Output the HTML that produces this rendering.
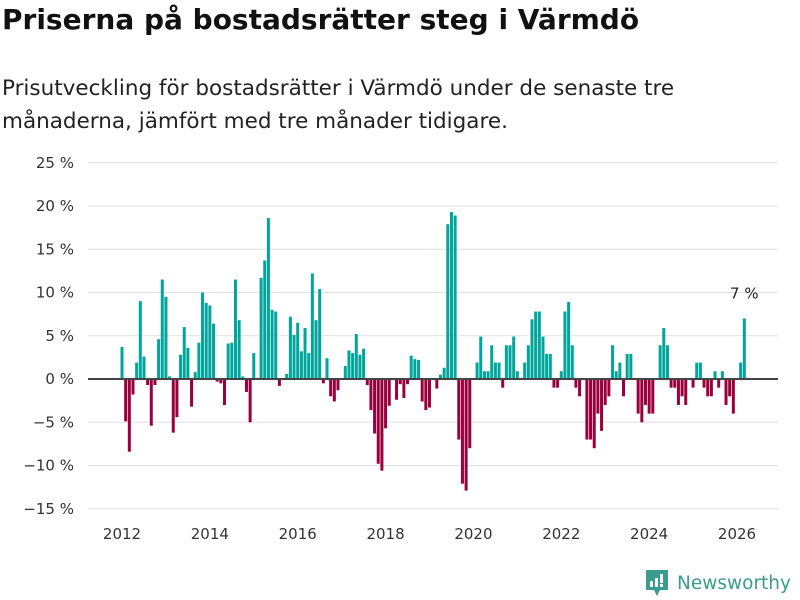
<!DOCTYPE html>
<html><head><meta charset="utf-8"><style>
body{margin:0;width:800px;height:600px;background:#fff;font-family:"Liberation Sans","DejaVu Sans",sans-serif;overflow:hidden;position:relative}
</style></head><body>
<div style="position:absolute;left:2px;top:3px;font-size:28px;font-weight:bold;color:#111;font-family:'DejaVu Sans',sans-serif;white-space:nowrap">Priserna på bostadsrätter steg i Värmdö</div>
<div style="position:absolute;left:2px;top:72px;font-size:21.5px;line-height:33px;color:#222;font-family:'DejaVu Sans',sans-serif;white-space:nowrap">Prisutveckling för bostadsrätter i Värmdö under de senaste tre<br>månaderna, jämfört med tre månader tidigare.</div>
<svg id="chart" width="800" height="600" style="position:absolute;left:0;top:0"></svg>
<div style="position:absolute;left:645px;top:569px;height:28px;display:flex;align-items:center">
<svg width="24" height="28"><path d="M1 1h22v20h-8l-3 6-3-6H1z" fill="#3a9b8f"/><rect x="5" y="12" width="3" height="6" fill="#fff"/><rect x="10" y="9" width="3" height="9" fill="#fff"/><rect x="15" y="5" width="3" height="9" fill="#fff"/><rect x="15" y="15" width="3" height="3" fill="#fff"/></svg>
<span style="margin-left:8px;font-size:18.5px;color:#3a9b8f;font-family:'DejaVu Sans',sans-serif;white-space:nowrap">Newsworthy</span></div>
<script>
const yTicks=[-15,-10,-5,0,5,10,15,20,25];
const xYears=[2012,2014,2016,2018,2020,2022,2024,2026];
const startYear=2012;
const values=[
3.7,-4.9,-8.4,-1.8,1.9,9,2.6,-0.7,-5.4,-0.7,4.6,11.5,
9.5,0.3,-6.2,-4.4,2.8,6,3.6,-3.2,0.8,4.2,10,8.8,
8.5,6.4,-0.3,-0.5,-3,4.1,4.2,11.5,6.8,0.3,-1.5,-5,
3,0,11.7,13.7,18.6,8,7.8,-0.8,0.1,0.6,7.2,5.1,
6.5,3.2,5.9,3,12.2,6.8,10.4,-0.5,2.4,-2,-2.6,-1.3,
0.1,1.5,3.3,3,5.2,2.8,3.5,-0.7,-3.6,-6.3,-9.8,-10.6,
-5.7,-3.1,0,-2.4,-0.6,-2.2,-0.6,2.7,2.3,2.2,-2.6,-3.6,
-3.3,0,-1.1,0.5,1.3,17.9,19.3,18.9,-7,-12.1,-12.9,-8,
0,1.9,4.9,0.9,0.9,3.9,1.9,1.9,-1,3.9,3.9,4.9,
0.9,0,1.9,3.9,6.9,7.8,7.8,4.9,2.9,2.9,-1,-1,
0.9,7.8,8.9,3.9,-1,-2,0,-7,-7,-8,-4,-6,
-3,-2,3.9,0.9,1.9,-2,2.9,2.9,0,-4,-5,-3,
-4,-4,0,3.9,5.9,3.9,-1,-1,-3,-2,-3,0,
-1,1.9,1.9,-1,-2,-2,0.9,-1,0.9,-3,-2,-4,
0,1.9,7];
const lastLabel="7 %";
const NS="http://www.w3.org/2000/svg";
const svg=document.getElementById('chart');
function y(v){return 379-v*8.65;}
function x(i){return 122+i*(737-122)/168;}
function mk(t,a){const e=document.createElementNS(NS,t);for(const k in a)e.setAttribute(k,a[k]);svg.appendChild(e);return e;}
yTicks.forEach(t=>{
  if(t!==0){const g=mk('line',{x1:88,x2:778,y1:y(t),y2:y(t),stroke:'#e0e0e0','stroke-width':1});
  
  }
  const l=mk('text',{x:74,y:y(t)+5,'text-anchor':'end','font-size':15,fill:'#333','font-family':'DejaVu Sans, sans-serif'});
  l.textContent=(t<0?'\u2212'+(-t):t)+' %';
  
  
});
xYears.forEach(yr=>{
  const l=mk('text',{x:x((yr-startYear)*12),y:539,'text-anchor':'middle','font-size':15,fill:'#333','font-family':'DejaVu Sans, sans-serif'});
  l.textContent=yr;
  
  
});
values.forEach((v,i)=>{
  if(v===0)return;
  const top=Math.min(y(v),y(0)),h=Math.abs(y(v)-y(0));
  const r=mk('rect',{x:x(i)-1.5,y:top,width:3,height:h,fill:v>0?'#00a59b':'#99003c'});
  
  
});
const z=mk('line',{x1:88,x2:778,y1:y(0),y2:y(0),stroke:'#444','stroke-width':2});


const li=values.length-1;
const lt=mk('text',{x:x(li),y:y(values[li])-20,'text-anchor':'middle','font-size':15,fill:'#222','font-family':'DejaVu Sans, sans-serif'});
lt.textContent=lastLabel;


</script>
</body></html>
